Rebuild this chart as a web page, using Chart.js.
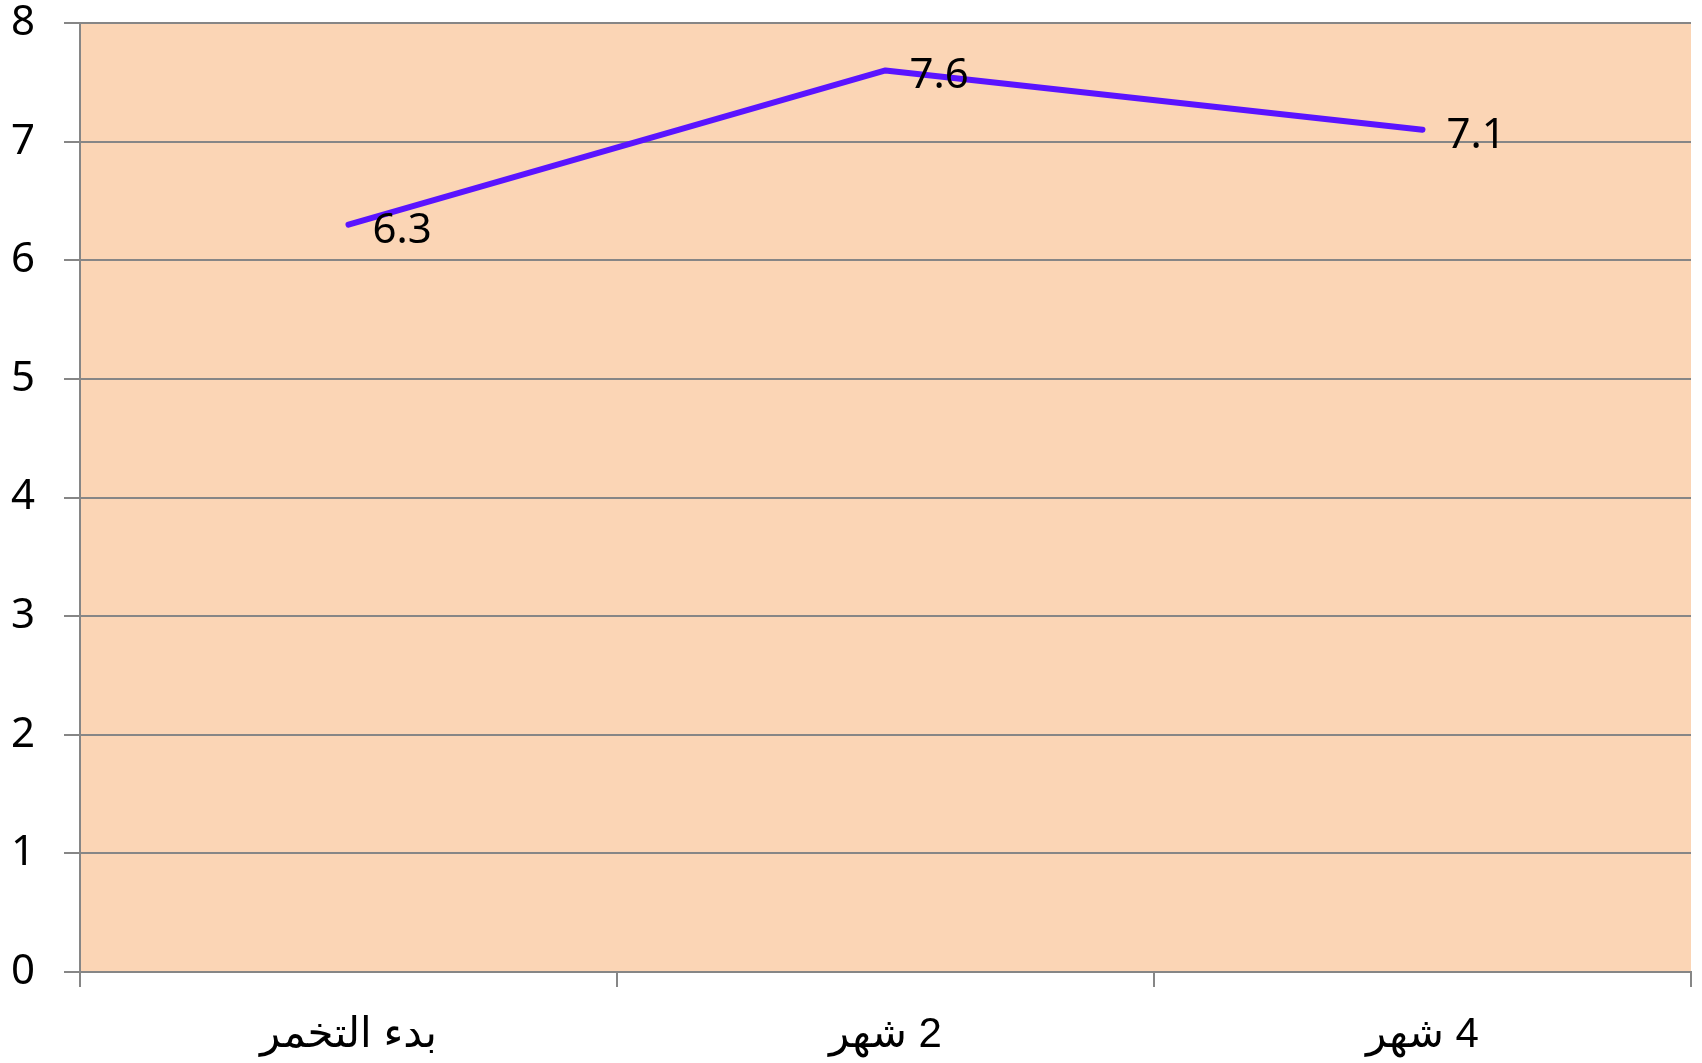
<!DOCTYPE html>
<html>
<head>
<meta charset="utf-8">
<script src="https://cdn.jsdelivr.net/npm/chart.js@4.4.1/dist/chart.umd.min.js"></script>
<style>
    html, body { margin: 0; padding: 0; background: #ffffff; }
    #wrap { width: 1702px; height: 1063px; position: relative; }
</style>
</head>
<body>
<div id="wrap"><canvas id="phChart" dir="rtl"></canvas></div>
<script>
// ============================================
// pH during fermentation
// ============================================

const categories = ['بدء التخمر', '2 شهر', '4 شهر'];
const phValues = [6.3, 7.6, 7.1];
const yTicks = [0, 1, 2, 3, 4, 5, 6, 7, 8];

const GRID_COLOR = '#868686';
const PLOT_BG = '#FBD5B5';
const LINE_COLOR = '#5A14FF';

// plot background (only the chart area is tan)
const plotBackground = {
    id: 'plotBackground',
    beforeDraw(chart) {
        const { ctx, chartArea } = chart;
        ctx.save();
        ctx.fillStyle = PLOT_BG;
        ctx.fillRect(chartArea.left, chartArea.top,
            chartArea.right - chartArea.left, chartArea.bottom - chartArea.top);
        ctx.restore();
    }
};

// value labels to the right of each point
const valueLabels = {
    id: 'valueLabels',
    afterDatasetsDraw(chart) {
        const { ctx } = chart;
        const meta = chart.getDatasetMeta(0);
        const values = chart.data.datasets[0].data;
        ctx.save();
        ctx.font = '42px "Noto Sans"';
        ctx.fillStyle = '#000000';
        ctx.textAlign = 'left';
        ctx.textBaseline = 'alphabetic';
        ctx.direction = 'ltr';
        meta.data.forEach((pt, i) => {
            ctx.fillText(values[i].toFixed(1), pt.x + 24, pt.y + 18);
        });
        ctx.restore();
    }
};

const ctx = document.getElementById('phChart').getContext('2d');

new Chart(ctx, {
    type: 'line',
    data: {
        labels: categories,
        datasets: [{
            label: 'pH',
            data: phValues,
            borderColor: LINE_COLOR,
            borderWidth: 6,
            borderCapStyle: 'round',
            borderJoinStyle: 'round',
            pointRadius: 0,
            pointHoverRadius: 0,
            tension: 0,
            fill: false
        }]
    },
    options: {
        responsive: true,
        maintainAspectRatio: false,
        animation: false,
        layout: {
            padding: { left: 0, top: 23, right: 11, bottom: 0 }
        },
        plugins: {
            legend: { display: false },
            tooltip: { enabled: false }
        },
        scales: {
            x: {
                offset: true,
                grid: {
                    offset: true,
                    drawOnChartArea: false,
                    drawTicks: true,
                    tickLength: 15,
                    color: GRID_COLOR,
                    lineWidth: 2
                },
                border: { display: true, color: GRID_COLOR, width: 2 },
                ticks: {
                    padding: 23,
                    color: '#000000',
                    maxRotation: 0,
                    font: { family: '"Liberation Sans", "DejaVu Sans", sans-serif', size: 42 }
                },
                afterFit(scale) {
                    scale.height = 91;
                    scale.paddingLeft = 0;
                    scale.paddingRight = 0;
                }
            },
            y: {
                min: 0,
                max: 8,
                afterBuildTicks(scale) {
                    scale.ticks = yTicks.map(v => ({ value: v }));
                },
                grid: {
                    drawTicks: true,
                    tickLength: 16,
                    color: GRID_COLOR,
                    lineWidth: 2
                },
                border: { display: true, color: GRID_COLOR, width: 2 },
                ticks: {
                    padding: 29,
                    color: '#000000',
                    font: { family: '"Noto Sans", sans-serif', size: 42 }
                },
                afterFit(scale) {
                    scale.width = 80;
                    scale.paddingTop = 0;
                    scale.paddingBottom = 0;
                }
            }
        }
    },
    plugins: [plotBackground, valueLabels]
});
</script>
</body>
</html>
